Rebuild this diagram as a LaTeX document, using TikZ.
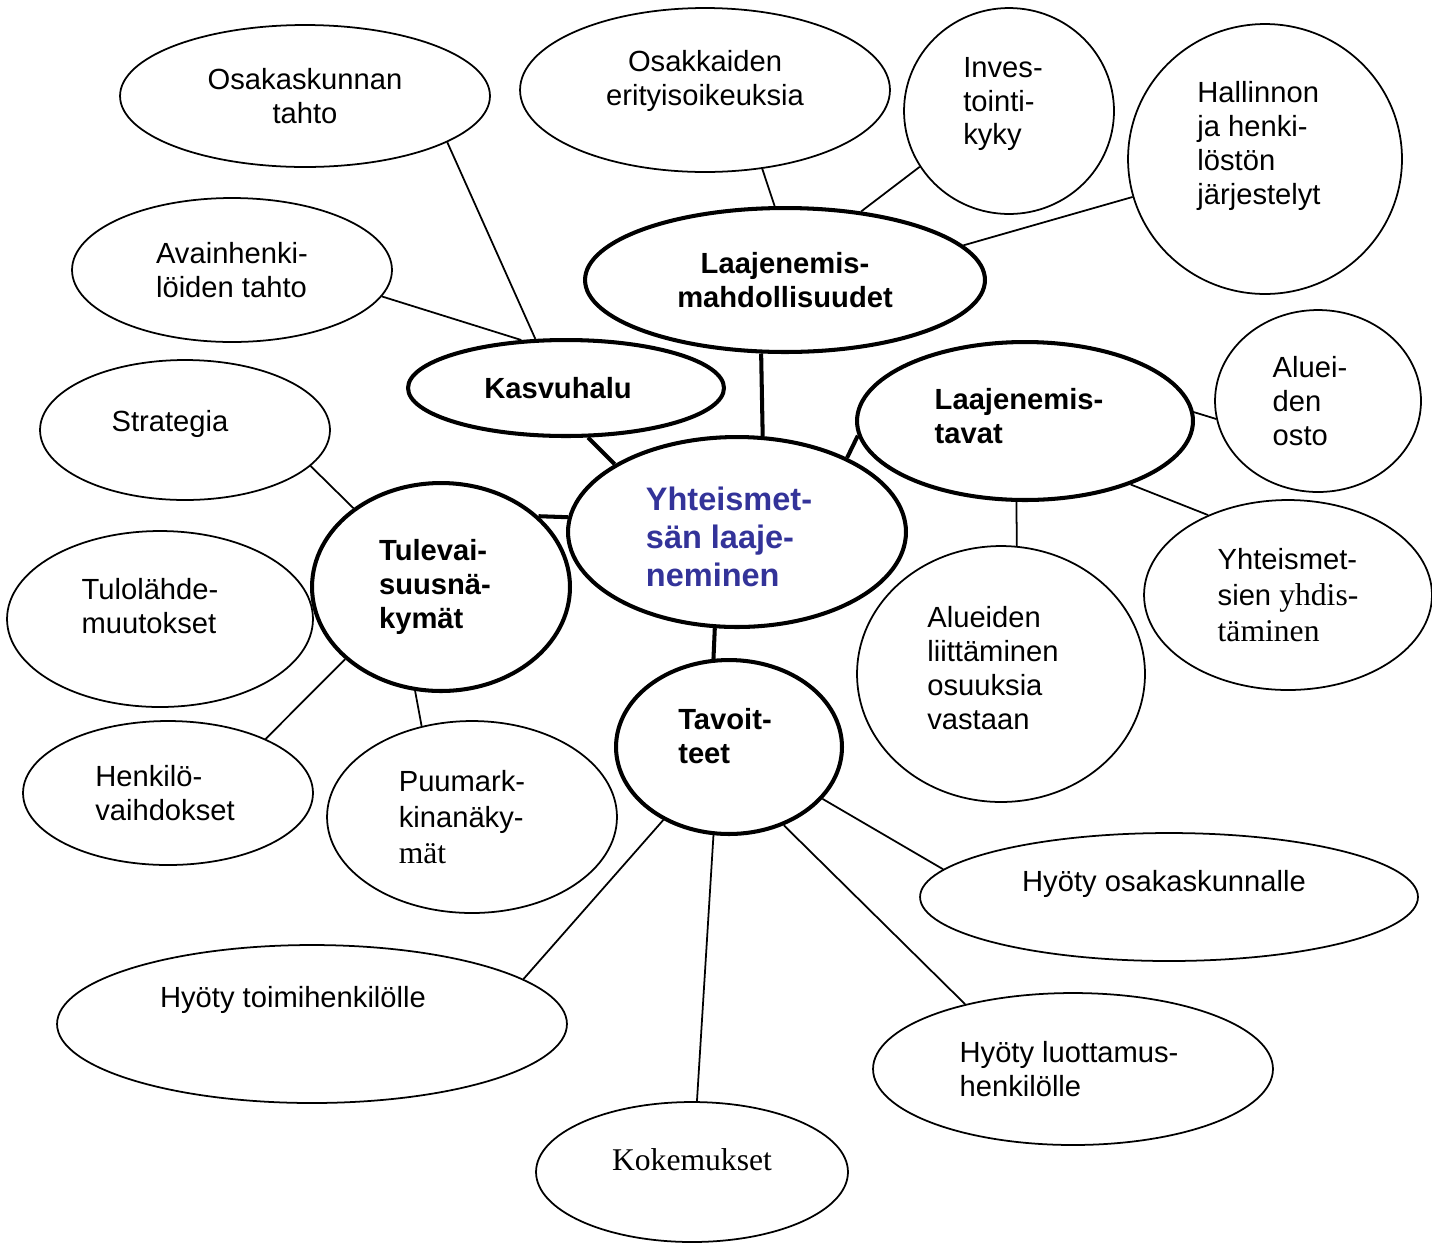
\documentclass[tikz,border=0pt]{standalone}
\usepackage{fontspec}
\setmainfont{Liberation Sans}
\newfontfamily\timesfont[Scale=1.084]{Liberation Serif}
\usetikzlibrary{shapes.geometric}
\definecolor{hubblue}{RGB}{51,51,153}

\begin{document}
\begin{tikzpicture}[x=0.02cm,y=-0.02cm,
    idea/.style={ellipse,draw,line width=1pt,inner sep=0pt,align=left,
                 font=\fontsize{16.6}{19.3}\selectfont},
    hub/.style={idea,line width=2.3pt,font=\fontsize{16.6}{19.3}\selectfont\bfseries},
    link/.style={line width=1pt},
    hublink/.style={line width=2.3pt}]
    \useasboundingbox (0,0) rectangle (1432,1245);

    % top row
    \node[idea,align=center,minimum width=7.4cm,minimum height=2.84cm] (osakaskunta) at (305,96)  {Osakaskunnan\\tahto};
    \node[idea,align=center,minimum width=7.4cm,minimum height=3.28cm] (erityis)     at (705,90)  {Osakkaiden\\erityisoikeuksia\rule[-0.48cm]{0pt}{0pt}};
    \node[idea,minimum width=4.2cm,minimum height=4.12cm]  (inves)    at (1009,111) {Inves-\rule{0.24cm}{0pt}\\tointi-\\kyky\rule[-0.4cm]{0pt}{0pt}};
    \node[idea,minimum width=5.48cm,minimum height=5.4cm]  (hallinto) at (1265,159) {Hallinnon\\ja henki-\\löstön\\järjestelyt\rule[-0.64cm]{0.24cm}{0pt}};
    \node[idea,minimum width=6.4cm,minimum height=2.88cm]  (avain)    at (232,270)  {Avainhenki-\\löiden tahto};

    % hubs
    \node[hub,align=center,minimum width=8cm,minimum height=2.88cm] (mahd) at (785,280) {Laajenemis-\\mahdollisuudet};
    \node[hub,minimum width=6.32cm,minimum height=1.92cm] (kasvu)  at (566,388)  {Kasvuhalu\hspace{0.32cm}};
    \node[hub,minimum width=6.72cm,minimum height=3.16cm] (tavat)  at (1025,421) {Laajenemis-\rule{0.24cm}{0pt}\\tavat\rule[-0.2cm]{0pt}{0pt}};
    \node[hub,minimum width=6.76cm,minimum height=3.8cm,text=hubblue,
          font=\fontsize{18.5}{21.8}\selectfont\bfseries]  (keskus) at (737,532)  {\rule{0pt}{0.67cm}Yhteismet-\rule{0.32cm}{0pt}\\sän laaje-\\neminen};
    \node[hub,minimum width=5.16cm,minimum height=4.16cm] (tulev)  at (441,587)  {Tulevai-\\suusnä-\rule{0.24cm}{0pt}\\kymät};
    \node[hub,minimum width=4.52cm,minimum height=3.48cm] (tavoit) at (729,747)  {Tavoit-\rule{0.16cm}{0pt}\\teet\rule[-0.44cm]{0pt}{0pt}};

    % outer ideas
    \node[idea,minimum width=4.12cm,minimum height=3.64cm] (osto)      at (1318,401) {Aluei-\rule{0.32cm}{0pt}\\den\\osto};
    \node[idea,minimum width=5.8cm,minimum height=2.8cm]   (strategia) at (185,430)  {Strategia\rule[-0.36cm]{0.6cm}{0pt}};
    \node[idea,minimum width=6.12cm,minimum height=3.52cm] (tulolahde) at (160,619)  {Tulolähde-\rule{0.4cm}{0pt}\\muutokset\rule[-0.52cm]{0pt}{0pt}};
    \node[idea,minimum width=5.76cm,minimum height=5.12cm] (liitt)     at (1001,674) {Alueiden\\liittäminen\rule{0.32cm}{0pt}\\osuuksia\\vastaan\rule[-0.24cm]{0pt}{0pt}};
    \node[idea,minimum width=5.76cm,minimum height=3.8cm,
          font=\fontsize{16.6}{20.4}\selectfont] (yhdist) at (1288,595) {Yhteismet-\\sien {\timesfont yhdis-}\\{\timesfont täminen}};
    \node[idea,minimum width=5.8cm,minimum height=2.88cm]  (henkilo)   at (168,793)  {Henkilö-\\vaihdokset\rule{0.12cm}{0pt}};
    \node[idea,minimum width=5.8cm,minimum height=3.84cm,
          font=\fontsize{16.6}{20.4}\selectfont] (puumark) at (472,817) {Puumark-\rule{0.4cm}{0pt}\\kinanäky-\\{\timesfont mät}};
    \node[idea,minimum width=9.96cm,minimum height=2.56cm] (hyotyosak)  at (1169,897)  {Hyöty osakaskunnalle\rule[-0.64cm]{0.2cm}{0pt}};
    \node[idea,minimum width=10.2cm,minimum height=3.16cm] (hyotytoimi) at (312,1024)  {Hyöty toimihenkilölle\rule[-1.08cm]{0.76cm}{0pt}};
    \node[idea,minimum width=8cm,minimum height=3.04cm]    (luott)      at (1073,1069) {Hyöty luottamus-\rule{0.16cm}{0pt}\\henkilölle};
    \node[idea,minimum width=6.24cm,minimum height=2.8cm,font=\fontsize{16.6}{19.3}\timesfont] (kokemukset) at (692,1172) {Kokemukset\rule[-0.48cm]{0pt}{0pt}};

    % connectors
    \draw[link] (osakaskunta.342) -- (kasvu.122);
    \draw[link] (avain.350) -- (kasvu.133);
    \draw[link] (erityis.306) -- (mahd.98);
    \draw[link] (inves.212) -- (mahd.42);
    \draw[link] (hallinto.196) -- (mahd.11);
    \draw[hublink] (mahd.252) -- (keskus.75);
    \draw[hublink] (kasvu.294) -- (keskus.151);
    \draw[hublink] (tavat.185) -- (keskus.34);
    \draw[link] (tavat.3) -- (osto.190);
    \draw[link] (tavat.329) -- (yhdist.135);
    \draw[link] (tavat.264) -- (liitt.83);
    \draw[link] (strategia.344) -- (tulev.138);
    \draw[hublink] (tulev.36) -- (keskus.175);
    \draw[link] (tulev.217) -- (henkilo.29);
    \draw[link] (tulev.256) -- (puumark.119);
    \draw[hublink] (keskus.257) -- (tavoit.100);
    \draw[link] (tavoit.331) -- (hyotyosak.173);
    \draw[link] (tavoit.228) -- (hyotytoimi.12);
    \draw[link] (tavoit.260) -- (kokemukset.86);
    \draw[link] (tavoit.305) -- (luott.149);
\end{tikzpicture}
\end{document}
